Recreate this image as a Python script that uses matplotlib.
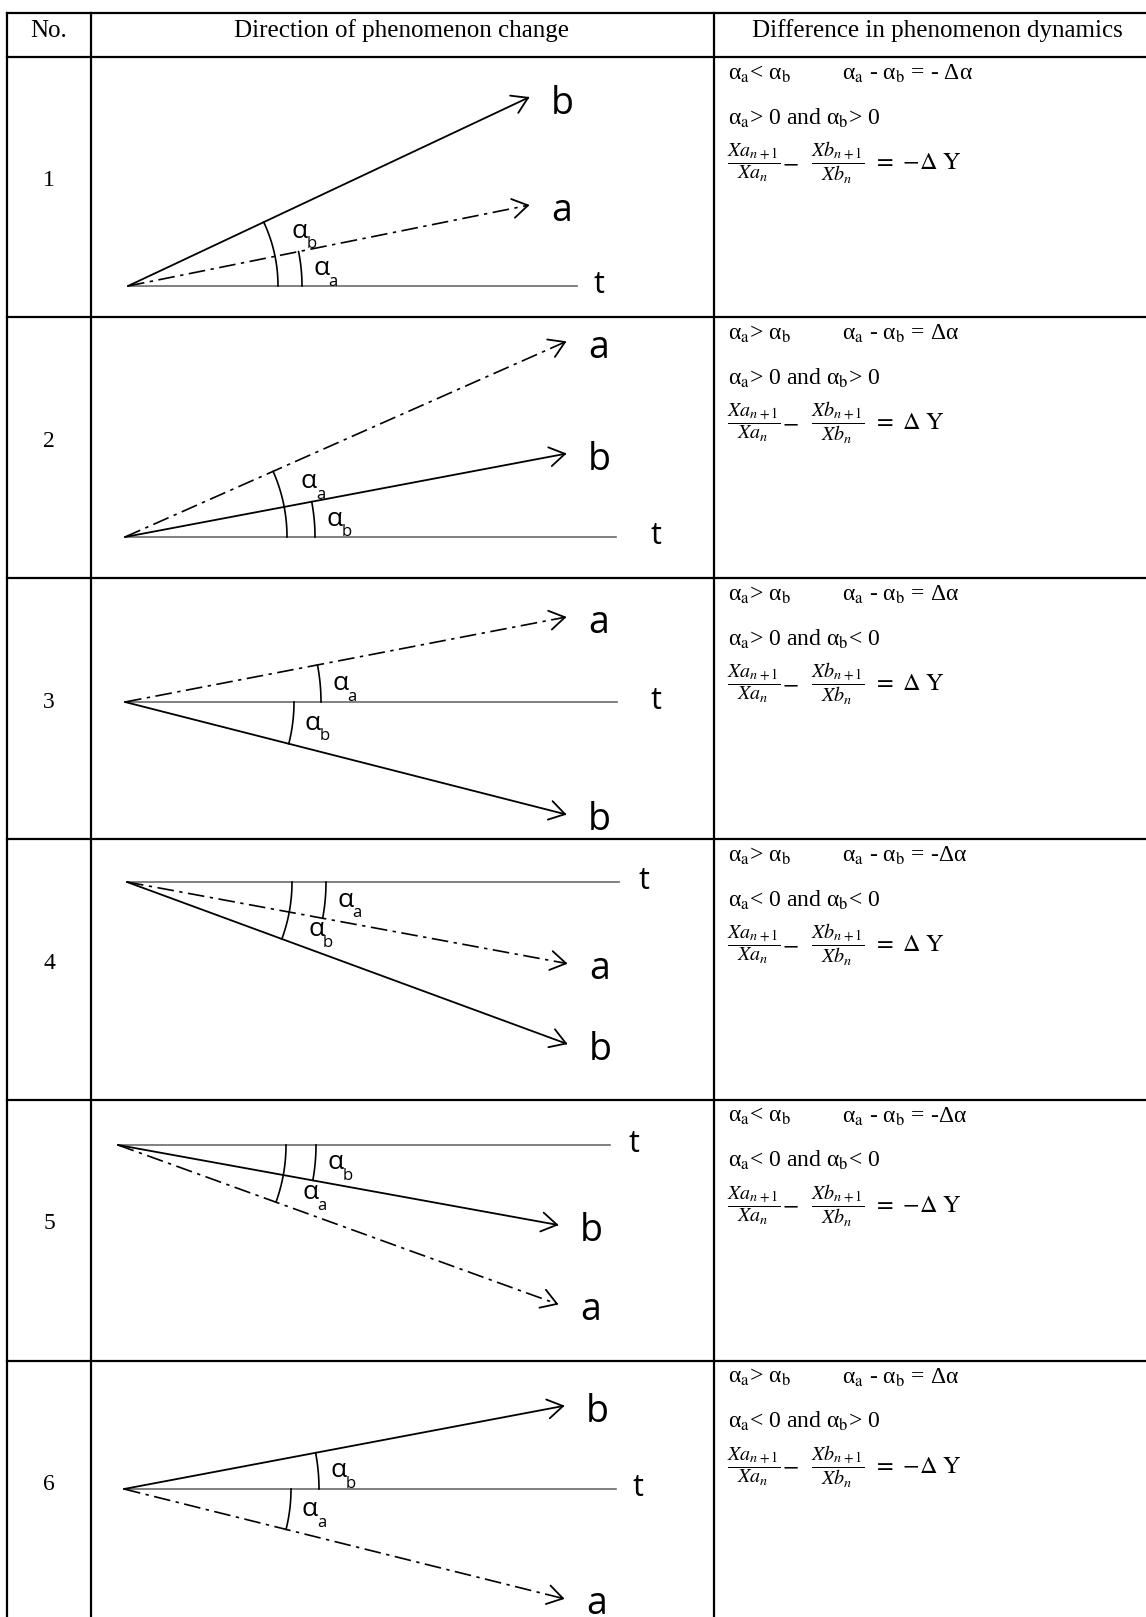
import numpy as np
import matplotlib.pyplot as plt

# ---- table content ----
row_numbers = ['1', '2', '3', '4', '5', '6']
# direction angles of a and b relative to t, degrees (up = positive)
angle_a = [11.4, 23.9, 10.9, -10.5, -19.9, -14.0]
angle_b = [25.2, 10.7, -14.3, -20.2, -10.3, 10.7]
rel_ab = ['<', '>', '>', '>', '<', '>']
diff_ab = ['- Δα', 'Δα', 'Δα', '-Δα', '-Δα', 'Δα']
sign_a = ['>', '>', '>', '<', '<', '<']
sign_b = ['>', '>', '<', '<', '<', '>']
neg_dy = [True, False, False, False, True, True]

headers = ['No.', 'Direction of phenomenon change', 'Difference in phenomenon dynamics']

# ---- layout (pixels) ----
W, H = 1146, 1617
row_lines = [12.7, 57, 317, 578.3, 839.3, 1099.5, 1360.5]
col_lines = [7.3, 90.7, 714]
origins = [(128, 286), (125, 537), (125, 702), (127, 882), (118, 1145), (124, 1489)]
reach = [400, 440, 440, 439, 439, 439]
t_end = [577, 616, 617, 619, 610, 616]
t_lab = [599, 656, 656, 644, 634, 638]
arc_r_a = [174, 162, 196, 199, 168, 167]
arc_r_b = [150, 190, 169, 165, 198, 195]

fig = plt.figure(figsize=(W / 100, H / 100), dpi=100)
ax = fig.add_axes([0, 0, 1, 1])
ax.set_xlim(0, W)
ax.set_ylim(H, 0)
ax.axis('off')

serif = ['Liberation Serif', 'DejaVu Serif']
sans = ['Open Sans', 'DejaVu Sans']

# grid
for y in row_lines:
    ax.plot([col_lines[0], W], [y, y], color='black', lw=1.6, solid_capstyle='projecting')
for x in col_lines:
    ax.plot([x, x], [row_lines[0], H], color='black', lw=1.6, solid_capstyle='projecting')

# header
ax.text(49, 37, headers[0], ha='center', va='baseline', fontsize=18, family=serif)
ax.text(402, 37, headers[1], ha='center', va='baseline', fontsize=18, family=serif)
ax.text(937, 37, headers[2], ha='center', va='baseline', fontsize=18, family=serif)


def polar(o, r, deg):
    t = np.radians(deg)
    return o[0] + r * np.cos(t), o[1] - r * np.sin(t)


def vector(o, deg, rch, dashed, name):
    L = rch / np.cos(np.radians(deg))
    tx, ty = polar(o, L, deg)
    if dashed:
        ax.plot([o[0], tx], [o[1], ty], color='black', lw=1.2, dashes=(10, 3.3, 2, 3.3))
    else:
        ax.plot([o[0], tx], [o[1], ty], color='black', lw=1.3)
    for s in (1, -1):
        px, py = polar((tx, ty), 18, deg + 180 + s * 32)
        ax.plot([tx, px], [ty, py], color='black', lw=1.3, solid_capstyle='round')
    ax.text(tx + 34, ty + 16, name, ha='center', va='baseline', fontsize=27, family=sans)


def angle_mark(o, deg, r, sub):
    th = np.linspace(0, deg, 50)
    x, y = polar(o, r, th)
    ax.plot(x, y, color='black', lw=1.2)
    wide = abs(deg) > 18
    lx, ly = polar(o, r + (30 if wide else 20), deg * (0.7 if wide else 0.45))
    ax.text(lx, ly, 'α', ha='center', va='center', fontsize=19, family=sans)
    ax.text(lx + 12, ly + 13, sub, ha='center', va='center', fontsize=12, family=sans)


for i in range(6):
    top = row_lines[i + 1]
    o = origins[i]
    # number column
    ax.text(49, top + 124, row_numbers[i], ha='center', va='center', fontsize=17, family=serif)

    # diagram: time axis t, then a (dash-dot) and b (solid)
    ax.plot([o[0], t_end[i]], [o[1], o[1]], color='#6b6b6b', lw=1.2)
    ax.text(t_lab[i], o[1] + 7, 't', ha='center', va='baseline', fontsize=22, family=sans)
    vector(o, angle_a[i], reach[i], True, 'a')
    vector(o, angle_b[i], reach[i], False, 'b')
    angle_mark(o, angle_a[i], arc_r_a[i], 'a')
    angle_mark(o, angle_b[i], arc_r_b[i], 'b')

    # dynamics column
    kw = dict(va='center', ha='left', fontsize=17, family=serif, math_fontfamily='stix')
    ax.text(728, top + 17, 'α$_\\mathrm{a}$' + rel_ab[i] + ' α$_\\mathrm{b}$', **kw)
    ax.text(842, top + 17, 'α$_\\mathrm{a}$ - α$_\\mathrm{b}$ = ' + diff_ab[i], **kw)
    ax.text(728, top + 61, 'α$_\\mathrm{a}$' + sign_a[i] + ' 0 and α$_\\mathrm{b}$'
            + sign_b[i] + ' 0', **kw)
    fkw = dict(va='center', ha='left', fontsize=14.5, math_fontfamily='stix')
    yb = top + 106
    ax.text(727, yb, r'$\dfrac{Xa_{n+1}}{Xa_{n}}$', **fkw)
    ax.text(790, yb - 1, r'$-$', va='center', ha='center', fontsize=17, math_fontfamily='stix')
    ax.text(811, yb, r'$\dfrac{Xb_{n+1}}{Xb_{n}}$', **fkw)
    rhs = (r'=\ {-}' if neg_dy[i] else r'=\ ') + r'\Delta\ \mathrm{Y}'
    ax.text(873, yb - 1, '$' + rhs + '$', va='center', ha='left', fontsize=17.5,
            math_fontfamily='stix')

fig.savefig('out.png', dpi=100)
